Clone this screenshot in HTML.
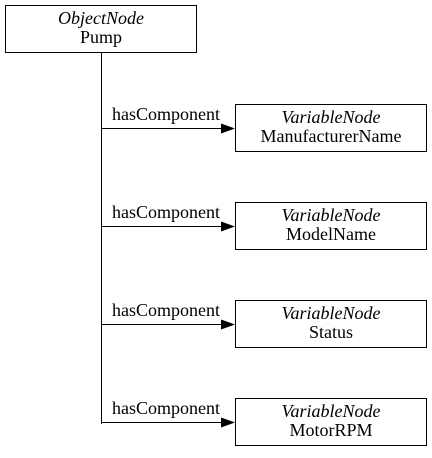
<!DOCTYPE html>
<html><head><style>body{margin:0;background:#fff}</style></head><body>
<svg width="432" height="453" xmlns="http://www.w3.org/2000/svg" font-family="Liberation Serif, serif" font-size="18">
<rect width="432" height="453" fill="#fff"/>
<rect x="5.5" y="5.5" width="191" height="47" fill="#fff" stroke="#000"/>
<text x="101" y="24" text-anchor="middle" font-style="italic">ObjectNode</text>
<text x="101" y="43" text-anchor="middle">Pump</text>
<line x1="101.5" y1="53" x2="101.5" y2="424" stroke="#000"/>
<g id="b">
<line x1="101" y1="128.5" x2="222" y2="128.5" stroke="#000"/>
<polygon points="221,123.5 235,128.5 221,133.5" fill="#000"/>
<text x="112" y="120">hasComponent</text>
</g>
<use href="#b" y="98"/><use href="#b" y="196"/><use href="#b" y="294"/>
<g text-anchor="middle">
<rect x="235.5" y="104.5" width="191" height="47" fill="#fff" stroke="#000"/>
<text x="331" y="123" font-style="italic">VariableNode</text><text x="331" y="142">ManufacturerName</text>
<rect x="235.5" y="202.5" width="191" height="47" fill="#fff" stroke="#000"/>
<text x="331" y="221" font-style="italic">VariableNode</text><text x="331" y="240">ModelName</text>
<rect x="235.5" y="300.5" width="191" height="47" fill="#fff" stroke="#000"/>
<text x="331" y="319" font-style="italic">VariableNode</text><text x="331" y="338">Status</text>
<rect x="235.5" y="398.5" width="191" height="47" fill="#fff" stroke="#000"/>
<text x="331" y="417" font-style="italic">VariableNode</text><text x="331" y="436">MotorRPM</text>
</g>
</svg>
</body></html>
